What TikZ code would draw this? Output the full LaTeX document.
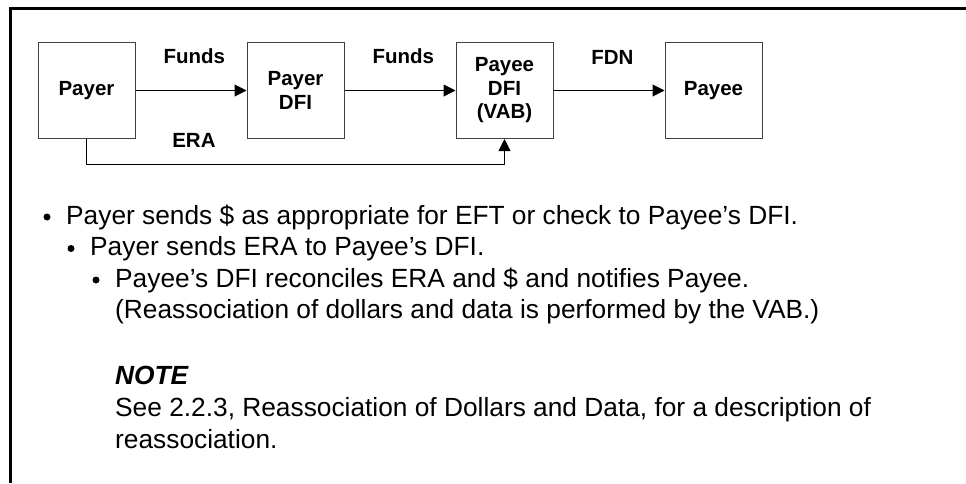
\documentclass[tikz,border=0pt]{standalone}
\usepackage{fontspec}
\setmainfont{Liberation Sans}
\usetikzlibrary{arrows.meta,positioning}

\begin{document}
\begin{tikzpicture}[>={Triangle[length=12pt,width=12pt]},node distance=111pt,
	party/.style={draw=black!75,line width=1pt,minimum width=97pt,minimum height=96pt,align=center,inner sep=0pt,font=\fontsize{20.5}{23.5}\selectfont\bfseries},
	flow/.style={->,line width=1pt},
	flowlbl/.style={inner sep=0pt,font=\fontsize{20.5}{23.5}\selectfont\bfseries},
	txt/.style={inner sep=0pt,anchor=base west,font=\fontsize{26.3}{31.5}\selectfont},
	notehead/.style={txt,font=\fontsize{26.3}{31.5}\selectfont\bfseries\itshape},
	dot/.style={circle,fill,inner sep=0pt,minimum size=7pt}]
	\useasboundingbox (0,0) rectangle (966pt,-483pt);
	% frame
	\draw[line width=3pt] (10.5pt,-483pt) -- (10.5pt,-8.5pt) -- (966pt,-8.5pt);

	% flow of funds and data
	\node[party]          (payer)    at (86.5pt,-90.5pt) {Payer};
	\node[party]          (payerdfi) [right=of payer]    {Payer\\DFI};
	\node[party]          (payeedfi) [right=of payerdfi] {Payee\\DFI\\(VAB)};
	\node[party]          (payee)    [right=of payeedfi] {Payee};
	\coordinate[below=25pt of payeedfi] (eraturn);

	\draw[flow] (payer)    -- node[flowlbl,pos=.53,above=26pt] (funds1) {Funds} (payerdfi);
	\draw[flow] (payerdfi) -- node[flowlbl,pos=.53,above=26pt] (funds2) {Funds} (payeedfi);
	\draw[flow] (payeedfi) -- node[flowlbl,pos=.53,above=26pt] (fdn)    {FDN}   (payee);
	\draw[flow] (payer) -- (payer |- eraturn)
		-- node[flowlbl,pos=.257,above=16pt] (era) {ERA} (eraturn) -- (payeedfi);

	% bullet list
	\node[txt] (line1) at (66pt,-224pt) {Payer sends \$ as appropriate for EFT or check to Payee's DFI.};
	\node[txt] (line2) at (90pt,-255.5pt) {Payer sends ERA to Payee's DFI.};
	\node[txt] (line3) at (115pt,-287pt) {Payee's DFI reconciles ERA and \$ and notifies Payee.};
	\node[txt] (line4) at ([yshift=-31.5pt]line3.base west) {(Reassociation of dollars and data is performed by the VAB.)};
	\foreach \l in {line1,line2,line3}
		\node[dot] at ([xshift=-19pt,yshift=7pt]\l.base west) {};

	% note
	\node[notehead] (note) at (115pt,-384pt) {NOTE};
	\node[txt] (see)  at ([yshift=-32pt]note.base west) {See 2.2.3, Reassociation of Dollars and Data, for a description of};
	\node[txt] (reas) at ([yshift=-32pt]see.base west)  {reassociation.};
\end{tikzpicture}
\end{document}
